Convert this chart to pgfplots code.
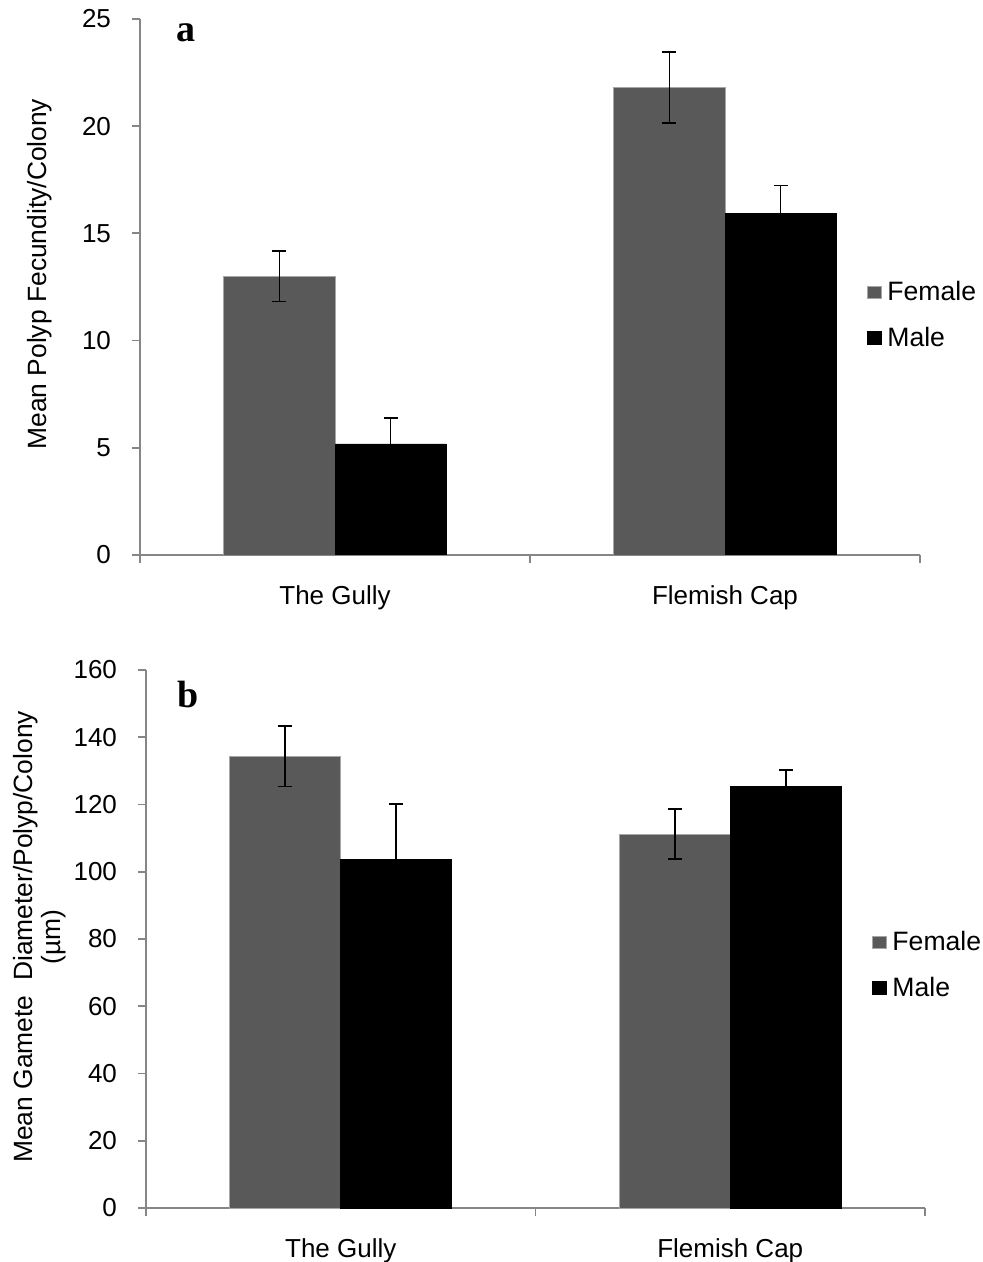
\documentclass[border=0pt]{standalone}
\usepackage{fontspec}
\setmainfont{Liberation Sans}
\newfontfamily\serifb{Liberation Serif}
\usepackage{pgfplots}
\pgfplotsset{compat=1.18}
\definecolor{fem}{HTML}{595959}
\definecolor{axgray}{HTML}{868686}
\pgfplotsset{
 mystyle/.style={
  scale only axis,
  axis lines*=left,
  axis line style={axgray, line width=0.9pt},
  ybar=0pt,
  bar width=0.285,
  xmin=-0.5, xmax=1.5,
  ymin=0,
  font=\fontsize{13}{15}\selectfont,
  /pgf/number format/assume math mode=true,
  xtick={-0.5,0.5,1.5},
  xticklabels={},
  extra x ticks={0,1},
  extra x tick labels={The Gully, Flemish Cap},
  extra x tick style={major tick length=0pt, xticklabel style={yshift=-12pt}},
  tick align=outside,
  major tick length=4pt,
  tick style={axgray, line width=0.9pt},
  yticklabel style={xshift=-7pt},
  y tick label style={/pgf/number format/fixed},
  legend style={draw=none, fill=none, anchor=west, font=\fontsize{13.3}{15}\selectfont, row sep=7.5pt, inner sep=0pt},
  legend cell align=left,
  legend image code/.code={\fill[##1] (0pt,-3pt) rectangle (7pt,3.2pt); \path (8pt,0pt);},
  error bars/y dir=both,
  error bars/y explicit,
  error bars/error bar style={black, line width=0.8pt},
  error bars/error mark options={rotate=90, mark size=3.5pt, black, line width=0.8pt},
 },
 fembar/.style={fill=fem, draw=gray!70, line width=0.4pt, bar shift=-0.1425},
 malebar/.style={fill=black, draw=black, line width=0.4pt, bar shift=0.1425},
}
\begin{document}
\begin{tikzpicture}
\path[use as bounding box] (-70pt,-353.5pt) rectangle (421.5pt,277.5pt);
% Panel a
\begin{axis}[mystyle,
  at={(0pt,0pt)}, anchor=south west,
  width=390pt, height=268pt,
  ymax=25, ytick={0,5,10,15,20,25},
  ylabel={Mean Polyp Fecundity/Colony},
  every axis y label/.style={at={(axis description cs:-0.128,0.524)}, rotate=90, anchor=center, font=\fontsize{13.2}{15}\selectfont},
  legend style={at={(axis description cs:0.931,0.447)}},
]
\addplot[fembar] coordinates {(0,13.0) +- (0,1.18) (1,21.8) +- (0,1.66)};
\addplot[malebar] coordinates {(0,5.18) +- (0,1.22) (1,15.93) +- (0,1.31)};
\legend{Female, Male}
\node[font=\serifb\bfseries\fontsize{19}{19}\selectfont] at (rel axis cs:0.059,0.975) {a};
\end{axis}
% Panel b
\begin{axis}[mystyle,
  at={(3pt,-326.5pt)}, anchor=south west,
  width=389.5pt, height=269pt,
  ymax=160, ytick={0,20,40,60,80,100,120,140,160},
  ylabel={Mean Gamete\ \ Diameter/Polyp/Colony\\(µm)},
  every axis y label/.style={at={(axis description cs:-0.136,0.504)}, rotate=90, anchor=center, align=center, font=\fontsize{13.2}{14}\selectfont},
  legend style={at={(axis description cs:0.931,0.451)}},
]
\addplot[fembar] coordinates {(0,134.3) +- (0,9.0) (1,111.2) +- (0,7.4)};
\addplot[malebar] coordinates {(0,103.6) +- (0,16.5) (1,125.4) +- (0,4.8)};
\legend{Female, Male}
\node[font=\serifb\bfseries\fontsize{19}{19}\selectfont] at (rel axis cs:0.054,0.955) {b};
\end{axis}
\end{tikzpicture}
\end{document}
